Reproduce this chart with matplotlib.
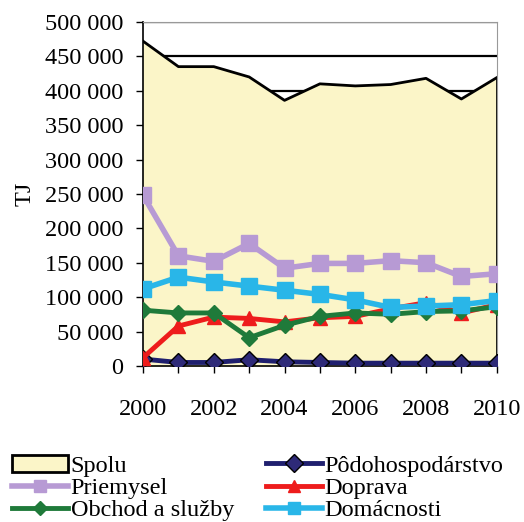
import matplotlib.pyplot as plt
from matplotlib.patches import Patch
from matplotlib.ticker import FuncFormatter

plt.rcParams['font.family'] = ['Liberation Serif', 'DejaVu Serif']

roky = [2000, 2001, 2002, 2003, 2004, 2005, 2006, 2007, 2008, 2009, 2010]
spolu = [472000, 435000, 435000, 420000, 386000, 410000, 407000, 409000, 418000, 388000, 419000]
podohospodarstvo = [10000, 5000, 5000, 9000, 6000, 5000, 4000, 4000, 4000, 4000, 4000]
priemysel = [248000, 160000, 152000, 178000, 142000, 149000, 149000, 153000, 150000, 130000, 134000]
doprava = [12000, 58000, 71000, 69000, 64000, 70000, 72000, 83000, 92000, 77000, 89000]
obchod = [81000, 77000, 77000, 41000, 59000, 72000, 77000, 75000, 79000, 80000, 86000]
domacnosti = [112000, 129000, 122000, 116000, 110000, 104000, 96000, 85000, 87000, 89000, 95000]

fig = plt.figure(figsize=(5.24, 5.22), dpi=100)
ax = fig.add_axes([0.273, 0.299, 0.675, 0.659])

ax.set_axisbelow(True)
ax.grid(axis='y', color='black', linewidth=1.6, zorder=0)
ax.fill_between(roky, spolu, color='#fbf5c8', zorder=1)
ax.plot(roky, spolu, color='black', linewidth=2, zorder=2)
ax.plot([2010, 2010], [0, spolu[-1]], color='black', linewidth=2, zorder=2)

ax.plot(roky, podohospodarstvo, color='#1f1f6e', linewidth=3.5, marker='D', markersize=9,
        markerfacecolor='#2e2a78', markeredgecolor='black', zorder=3)
ax.plot(roky, priemysel, color='#b79ad4', linewidth=4, marker='s', markersize=11, zorder=3)
ax.plot(roky, doprava, color='#ee1c1c', linewidth=3.5, marker='^', markersize=10, zorder=3)
ax.plot(roky, obchod, color='#1f7a3a', linewidth=3.5, marker='D', markersize=8, zorder=4)
ax.plot(roky, domacnosti, color='#29b6e8', linewidth=4, marker='s', markersize=11, zorder=4)

ax.set_xlim(2000, 2010)
ax.set_ylim(0, 500000)
ax.set_xticks([2000, 2002, 2004, 2006, 2008, 2010])
ax.set_xticks(roky, minor=True)
ax.set_yticks(range(0, 500001, 50000))
ax.yaxis.set_major_formatter(FuncFormatter(lambda v, p: f'{int(v):,}'.replace(',', ' ')))
ax.tick_params(axis='both', labelsize=17.5, direction='out', length=5, width=1)
ax.tick_params(axis='x', which='minor', direction='out', length=5, width=1)
ax.tick_params(axis='x', pad=19)
ax.tick_params(axis='y', pad=9)
ax.set_ylabel('TJ', fontsize=17.5, labelpad=7)

for s in ['top', 'right']:
    ax.spines[s].set_color('#999999')
ax.spines['left'].set_linewidth(1.2)
ax.spines['bottom'].set_linewidth(1.2)

handles = [
    Patch(facecolor='#fbf5c8', edgecolor='black', linewidth=2),
    plt.Line2D([], [], color='#b79ad4', linewidth=4, marker='s', markersize=9),
    plt.Line2D([], [], color='#1f7a3a', linewidth=3.5, marker='D', markersize=7),
    plt.Line2D([], [], color='#1f1f6e', linewidth=3.5, marker='D', markersize=9,
               markerfacecolor='#2e2a78', markeredgecolor='black'),
    plt.Line2D([], [], color='#ee1c1c', linewidth=3.5, marker='^', markersize=9),
    plt.Line2D([], [], color='#29b6e8', linewidth=4, marker='s', markersize=9),
]
labels = ['Spolu', 'Priemysel', 'Obchod a služby', 'Pôdohospodárstvo', 'Doprava', 'Domácnosti']
fig.legend(handles, labels, loc='upper left', bbox_to_anchor=(0.005, 0.147), ncol=2,
           frameon=False, fontsize=17.5, handlelength=2.3, handletextpad=0.1,
           labelspacing=0.0, columnspacing=1.3, borderaxespad=0)

fig.savefig('out.png', dpi=100)
